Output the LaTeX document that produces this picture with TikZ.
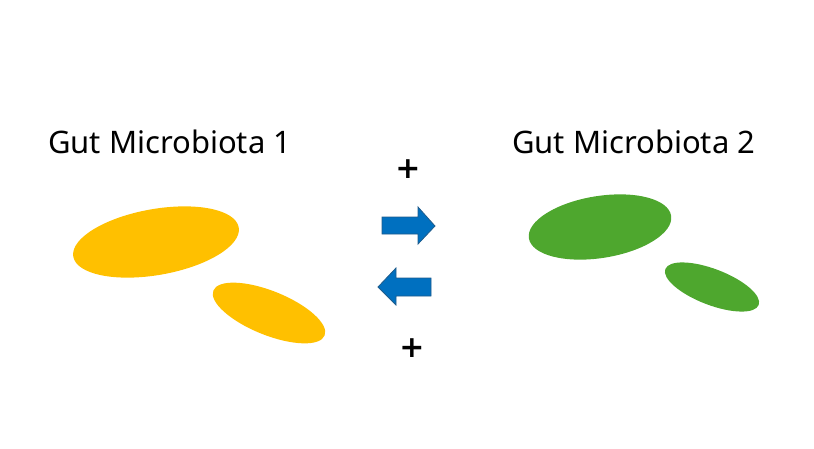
\documentclass[tikz,border=0pt]{standalone}
\usepackage{fontspec}
\setmainfont{Noto Sans}
\newfontfamily\plusfont{DejaVu Sans}
\usetikzlibrary{shapes.arrows}
\definecolor{gold}{HTML}{FFC000}
\definecolor{leaf}{HTML}{4EA72E}
\definecolor{arrowblue}{HTML}{0070C0}
\definecolor{arrowedge}{HTML}{1F5C8C}
\begin{document}
\begin{tikzpicture}[x=1pt,y=-1pt,
  title/.style={anchor=base west,inner sep=0pt,font=\fontsize{31}{36}\selectfont},
  plus/.style={inner sep=0pt,anchor=base,font=\plusfont\bfseries\fontsize{30}{34}\selectfont},
  arr/.style={fill=arrowblue,draw=arrowedge,line width=0.8pt,line join=miter}]
\useasboundingbox (0,0) rectangle (814,448);
\node[title] (t1) at (48,153) {Gut Microbiota 1};
\node[title] (t2) at (512,153) {Gut Microbiota 2};
\fill[gold] (156,242) ellipse[x radius=84,y radius=33,rotate=10];
\fill[gold] (269,313) ellipse[x radius=60,y radius=22,rotate=-22];
\fill[leaf] (600,227) ellipse[x radius=72,y radius=31,rotate=9];
\fill[leaf] (712,287) ellipse[x radius=50,y radius=18,rotate=-21];
\draw[arr] (382,217) -- (418,217) -- (418,207) -- (435,226) -- (418,244) -- (418,234) -- (382,234) -- cycle;
\draw[arr] (431,278) -- (396,278) -- (396,268) -- (378,287) -- (396,305) -- (396,296) -- (431,296) -- cycle;
\node[plus] (p1) at (408,178) {+};
\node[plus] (p2) at (412,357) {+};
\end{tikzpicture}
\end{document}
